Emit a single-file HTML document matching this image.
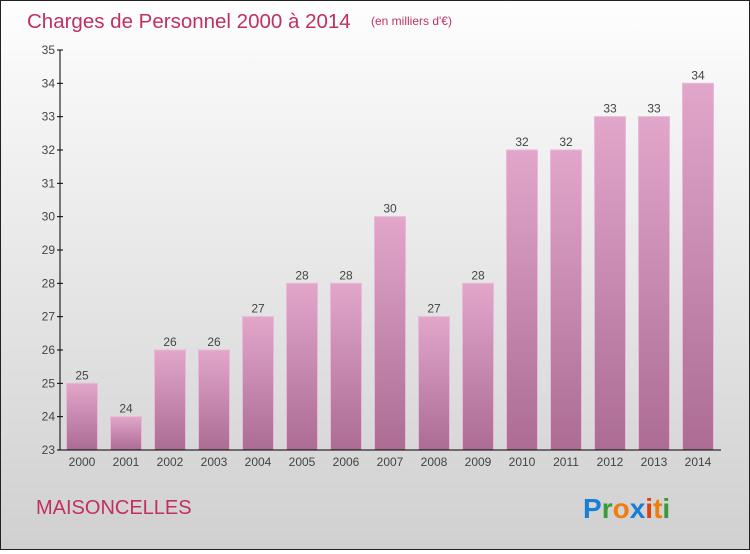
<!DOCTYPE html>
<html><head><meta charset="utf-8"><style>
html,body{margin:0;padding:0}
body{width:750px;height:550px;overflow:hidden;font-family:"Liberation Sans",sans-serif}
#wrap{position:absolute;left:0;top:0;width:748px;height:548px;border:1px solid #222;background:linear-gradient(#fefefe,#f4f4f4 20%,#d0d0d0)}
</style></head><body>
<div id="wrap">
<svg width="748" height="548" xmlns="http://www.w3.org/2000/svg" id="svg">
<defs><linearGradient id="bg" x1="0" y1="0" x2="0" y2="1"><stop offset="0" stop-color="#e2a6cb"/><stop offset="1" stop-color="#ac6c94"/></linearGradient></defs>
<text x="26" y="27" font-size="20.5" fill="#c0315f">Charges de Personnel 2000 à 2014</text>
<text x="370" y="24" font-size="12" fill="#c0315f">(en milliers d'€)</text>
<text x="35" y="513" font-size="20" fill="#c0315f">MAISONCELLES</text>
<g font-size="28" font-weight="bold" font-family="Liberation Sans, sans-serif">
<text x="582" y="517"><tspan fill="#1a7fd4">P</tspan><tspan fill="#3a9a3a">r</tspan><tspan fill="#f07d10">o</tspan><tspan fill="#1a7fd4">x</tspan><tspan fill="#e04010">i</tspan><tspan fill="#f07d10">t</tspan><tspan fill="#3a9a3a">i</tspan></text></g>
<g id="plot"></g>
</svg></div>
<script>
const years=["2000","2001","2002","2003","2004","2005","2006","2007","2008","2009","2010","2011","2012","2013","2014"];
const values=[25,24,26,26,27,28,28,30,27,28,32,32,33,33,34];
const yTicks=[23,24,25,26,27,28,29,30,31,32,33,34,35];
const NS="http://www.w3.org/2000/svg";
const g=document.getElementById('plot');
const y0=449,y1=49,vmin=23,vmax=35;
const ys=v=>y0-(v-vmin)/(vmax-vmin)*(y0-y1);
const xs=i=>81+i*44;
function el(t,a){const e=document.createElementNS(NS,t);for(const k in a)e.setAttribute(k,a[k]);g.appendChild(e);return e;}
values.forEach((v,i)=>{
 const r=el('rect',{x:xs(i)-15.5,y:ys(v),width:31,height:y0-ys(v),fill:'url(#bg)',stroke:'#e8b8d6','stroke-width':1});
 
 
 const t=el('text',{x:xs(i),y:ys(v)-4,'text-anchor':'middle','font-size':12,fill:'#444'});t.textContent=v;
 
 
 const xl=el('text',{x:xs(i),y:y0+16,'text-anchor':'middle','font-size':12,fill:'#444'});xl.textContent=years[i];
 
 
});
const ax=el('line',{x1:59,y1:y1,x2:59,y2:y0,stroke:'#000'});


const bx=el('line',{x1:59,y1:y0,x2:720,y2:y0,stroke:'#000'});


yTicks.forEach(v=>{
 el('line',{x1:56,y1:ys(v),x2:62,y2:ys(v),stroke:'#000'});
 const t=el('text',{x:54,y:ys(v)+4,'text-anchor':'end','font-size':12,fill:'#444'});t.textContent=v;
 
 
});
</script>
</body></html>
